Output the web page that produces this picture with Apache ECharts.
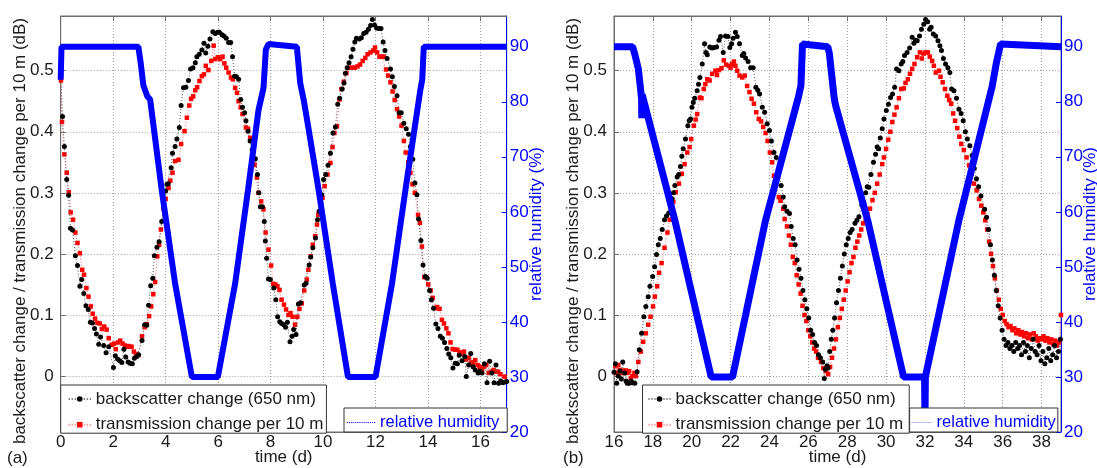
<!DOCTYPE html>
<html>
<head>
<meta charset="utf-8">
<script src="https://cdn.jsdelivr.net/npm/echarts@6/dist/echarts.min.js"></script>
<style>html,body{margin:0;padding:0;background:#fff;}#c{width:1097px;height:468px;}</style>
</head>
<body>
<div id="c"></div>
<script>
// ---------- DATA ----------
const xTicksA = [0, 2, 4, 6, 8, 10, 12, 14, 16];
const xTicksB = [16, 18, 20, 22, 24, 26, 28, 30, 32, 34, 36, 38];
const yTicksLeft = [0, 0.1, 0.2, 0.3, 0.4, 0.5];
const yTicksRight = [20, 30, 40, 50, 60, 70, 80, 90];

// panel (a) backscatter change (dB) : [time (d), value]
const backscatterA = [
[0.00,0.494],[0.07,0.425],[0.14,0.376],[0.23,0.322],[0.30,0.296],[0.37,0.242],[0.45,0.239],[0.56,0.197],[0.64,0.181],[0.73,0.147],
[0.80,0.158],[0.88,0.135],[0.96,0.115],[1.05,0.109],[1.13,0.088],[1.21,0.087],[1.29,0.078],[1.36,0.069],[1.45,0.052],[1.52,0.064],
[1.64,0.050],[1.73,0.038],[1.83,0.048],[2.01,0.014],[2.08,0.033],[2.17,0.028],[2.25,0.025],[2.33,0.022],[2.41,0.044],[2.48,0.031],
[2.57,0.023],[2.64,0.021],[2.73,0.020],[2.81,0.029],[2.90,0.032],[2.97,0.035],[3.10,0.058],[3.20,0.084],[3.28,0.083],[3.35,0.116],
[3.43,0.148],[3.51,0.160],[3.57,0.197],[3.67,0.211],[3.75,0.220],[3.85,0.253],[3.92,0.278],[4.00,0.303],[4.05,0.314],[4.10,0.315],
[4.21,0.341],[4.26,0.365],[4.36,0.376],[4.43,0.388],[4.52,0.407],[4.59,0.443],[4.68,0.472],[4.77,0.473],[4.87,0.484],[4.95,0.503],
[5.04,0.505],[5.13,0.513],[5.19,0.523],[5.28,0.527],[5.38,0.534],[5.46,0.545],[5.53,0.529],[5.61,0.540],[5.69,0.552],[5.80,0.564],
[5.89,0.561],[5.98,0.563],[6.05,0.563],[6.15,0.559],[6.22,0.557],[6.31,0.553],[6.40,0.546],[6.48,0.546],[6.55,0.523],[6.63,0.491],
[6.70,0.490],[6.78,0.486],[6.86,0.453],[6.93,0.440],[7.01,0.431],[7.06,0.418],[7.14,0.401],[7.22,0.385],[7.30,0.370],[7.42,0.356],
[7.50,0.330],[7.55,0.300],[7.61,0.277],[7.69,0.277],[7.76,0.253],[7.80,0.221],[7.85,0.193],[7.92,0.159],[7.99,0.158],[8.12,0.144],
[8.20,0.125],[8.27,0.097],[8.35,0.089],[8.42,0.086],[8.50,0.084],[8.57,0.080],[8.64,0.088],[8.74,0.056],[8.82,0.065],[8.88,0.076],
[8.97,0.068],[9.06,0.118],[9.14,0.120],[9.28,0.149],[9.35,0.152],[9.47,0.182],[9.53,0.195],[9.61,0.210],[9.71,0.226],[9.79,0.256],
[9.85,0.270],[9.91,0.283],[9.95,0.297],[10.02,0.322],[10.10,0.330],[10.19,0.345],[10.28,0.365],[10.38,0.398],[10.47,0.408],[10.56,0.445],
[10.63,0.455],[10.73,0.470],[10.80,0.480],[10.85,0.496],[10.92,0.505],[10.99,0.513],[11.07,0.523],[11.14,0.535],[11.21,0.547],[11.27,0.553],
[11.38,0.552],[11.46,0.554],[11.55,0.561],[11.64,0.563],[11.73,0.568],[11.81,0.574],[11.88,0.584],[11.96,0.575],[12.04,0.570],[12.12,0.569],
[12.21,0.569],[12.29,0.547],[12.36,0.533],[12.44,0.520],[12.57,0.503],[12.64,0.490],[12.72,0.474],[12.82,0.459],[12.90,0.431],[12.98,0.431],
[13.08,0.414],[13.17,0.405],[13.26,0.396],[13.33,0.376],[13.42,0.355],[13.50,0.316],[13.58,0.297],[13.64,0.257],[13.73,0.222],[13.81,0.182],
[13.90,0.163],[13.97,0.160],[14.06,0.140],[14.13,0.125],[14.21,0.111],[14.30,0.085],[14.38,0.078],[14.47,0.065],[14.55,0.062],[14.63,0.055],
[14.72,0.045],[14.79,0.036],[14.87,0.030],[14.95,0.013],[15.04,0.021],[15.12,0.020],[15.19,0.034],[15.30,0.025],[15.40,0.032],[15.46,-0.001],
[15.55,0.018],[15.63,0.037],[15.72,0.015],[15.80,0.010],[15.91,0.005],[15.98,0.008],[16.06,0.005],[16.15,0.020],[16.25,-0.011],[16.35,0.024],
[16.43,0.005],[16.52,-0.011],[16.59,0.018],[16.69,-0.012],[16.77,-0.008],[16.85,-0.011],[16.94,-0.010],[17.00,-0.009]
];

// panel (a) transmission change per 10 m (dB)
const transmissionA = [
[0.01,0.484],[0.05,0.416],[0.14,0.363],[0.23,0.333],[0.31,0.301],[0.38,0.268],[0.47,0.256],[0.56,0.235],[0.64,0.218],[0.73,0.201],
[0.82,0.174],[0.89,0.166],[0.98,0.144],[1.06,0.130],[1.15,0.114],[1.22,0.102],[1.31,0.094],[1.40,0.087],[1.49,0.086],[1.57,0.077],
[1.66,0.081],[1.75,0.076],[1.83,0.062],[1.94,0.051],[2.03,0.053],[2.10,0.044],[2.19,0.055],[2.27,0.058],[2.36,0.053],[2.45,0.050],
[2.52,0.048],[2.60,0.049],[2.70,0.048],[2.79,0.040],[2.87,0.036],[2.95,0.034],[3.10,0.065],[3.20,0.080],[3.28,0.085],[3.37,0.098],
[3.45,0.114],[3.53,0.134],[3.60,0.154],[3.68,0.196],[3.75,0.215],[3.82,0.240],[3.91,0.274],[4.00,0.290],[4.11,0.308],[4.18,0.320],
[4.26,0.333],[4.36,0.352],[4.49,0.354],[4.59,0.380],[4.72,0.401],[4.81,0.423],[4.90,0.443],[4.97,0.454],[5.05,0.458],[5.13,0.468],
[5.20,0.473],[5.29,0.483],[5.38,0.491],[5.46,0.494],[5.53,0.508],[5.63,0.501],[5.74,0.516],[5.83,0.541],[5.89,0.519],[5.99,0.522],
[6.08,0.519],[6.17,0.523],[6.24,0.512],[6.31,0.505],[6.40,0.497],[6.49,0.489],[6.56,0.486],[6.65,0.472],[6.72,0.464],[6.78,0.450],
[6.86,0.440],[6.93,0.429],[7.06,0.407],[7.14,0.405],[7.22,0.390],[7.30,0.370],[7.39,0.346],[7.48,0.325],[7.54,0.300],[7.64,0.286],
[7.73,0.273],[7.81,0.235],[7.92,0.207],[8.02,0.181],[8.10,0.151],[8.18,0.150],[8.26,0.147],[8.34,0.141],[8.42,0.125],[8.51,0.117],
[8.59,0.109],[8.68,0.100],[8.76,0.103],[8.84,0.097],[8.93,0.084],[9.02,0.097],[9.10,0.110],[9.19,0.119],[9.28,0.140],[9.38,0.158],
[9.44,0.174],[9.53,0.196],[9.61,0.215],[9.70,0.229],[9.77,0.248],[9.82,0.264],[9.91,0.281],[9.98,0.292],[10.06,0.311],[10.17,0.330],
[10.28,0.349],[10.36,0.375],[10.43,0.398],[10.53,0.409],[10.63,0.453],[10.70,0.470],[10.79,0.482],[10.89,0.496],[10.99,0.505],[11.11,0.505],
[11.21,0.505],[11.31,0.507],[11.41,0.510],[11.51,0.516],[11.61,0.521],[11.70,0.527],[11.81,0.530],[11.91,0.533],[11.98,0.538],[12.06,0.530],
[12.15,0.523],[12.25,0.523],[12.31,0.523],[12.40,0.502],[12.48,0.492],[12.57,0.481],[12.65,0.466],[12.73,0.452],[12.82,0.437],[12.90,0.425],
[12.99,0.410],[13.08,0.385],[13.15,0.366],[13.25,0.350],[13.33,0.333],[13.41,0.314],[13.50,0.300],[13.62,0.264],[13.69,0.251],[13.77,0.212],
[13.86,0.162],[13.93,0.162],[14.01,0.150],[14.10,0.140],[14.18,0.128],[14.28,0.111],[14.35,0.113],[14.44,0.110],[14.53,0.092],[14.61,0.086],
[14.70,0.078],[14.78,0.070],[14.86,0.055],[14.94,0.044],[15.04,0.043],[15.12,0.043],[15.20,0.039],[15.30,0.037],[15.37,0.040],[15.45,0.027],
[15.55,0.030],[15.64,0.022],[15.72,0.022],[15.80,0.026],[15.89,0.018],[15.97,0.015],[16.06,0.011],[16.14,0.015],[16.22,0.018],[16.31,0.005],
[16.40,0.007],[16.50,0.010],[16.59,0.007],[16.67,0.007],[16.76,0.003],[16.92,-0.001],[17.01,-0.005]
];

// panel (a) relative humidity (%)
const humidityA = [
[0.00,84],[0.03,90],[2.96,90],[3.05,87],[3.15,83],[3.22,82.8],[3.30,81],[3.41,80.4],[3.85,64],[4.36,47],[5.00,30],[5.99,30],
[6.65,47],[7.14,64],[7.54,78.5],[7.73,82.5],[7.82,89.5],[7.92,90.5],[9.00,90],[9.13,83.4],[9.26,80.4],[9.45,75],[9.83,64],
[10.37,47],[10.95,30],[12.00,30],[12.63,47],[13.14,64],[13.71,82.2],[13.78,84],[13.84,90],[17.00,90]
];

// panel (b) backscatter change (dB)
const backscatterB = [
[16.00,0.006],[16.07,0.020],[16.14,-0.012],[16.22,0.000],[16.31,0.008],[16.38,-0.005],[16.45,0.023],[16.55,0.005],[16.62,-0.008],[16.68,-0.012],
[16.78,-0.012],[16.88,-0.008],[16.96,-0.011],[17.07,-0.012],[17.19,0.007],[17.30,0.043],[17.42,0.070],[17.54,0.097],[17.64,0.114],[17.76,0.130],
[17.85,0.147],[17.99,0.163],[18.09,0.179],[18.19,0.199],[18.28,0.215],[18.38,0.225],[18.48,0.240],[18.60,0.256],[18.70,0.262],[18.82,0.267],
[18.90,0.280],[18.99,0.290],[19.06,0.300],[19.13,0.312],[19.25,0.326],[19.33,0.330],[19.42,0.343],[19.49,0.360],[19.56,0.372],[19.68,0.388],
[19.80,0.410],[19.87,0.418],[19.94,0.421],[20.01,0.440],[20.08,0.448],[20.15,0.455],[20.28,0.467],[20.35,0.478],[20.42,0.489],[20.54,0.511],
[20.66,0.544],[20.73,0.530],[20.80,0.526],[20.93,0.539],[21.05,0.537],[21.14,0.538],[21.28,0.539],[21.40,0.550],[21.48,0.556],[21.62,0.530],
[21.74,0.557],[21.86,0.556],[21.96,0.538],[22.05,0.544],[22.13,0.553],[22.25,0.563],[22.34,0.556],[22.46,0.544],[22.60,0.525],[22.68,0.528],
[22.77,0.521],[22.90,0.515],[23.03,0.505],[23.16,0.505],[23.30,0.473],[23.40,0.468],[23.49,0.462],[23.63,0.440],[23.75,0.432],[23.88,0.413],
[24.00,0.402],[24.10,0.385],[24.23,0.366],[24.35,0.358],[24.48,0.335],[24.60,0.312],[24.71,0.293],[24.78,0.277],[24.90,0.270],[25.03,0.266],
[25.12,0.245],[25.22,0.225],[25.32,0.215],[25.42,0.190],[25.52,0.175],[25.62,0.160],[25.72,0.140],[25.82,0.125],[25.92,0.110],[26.02,0.095],
[26.12,0.075],[26.22,0.068],[26.32,0.055],[26.42,0.050],[26.52,0.035],[26.62,0.030],[26.74,0.023],[26.82,-0.004],[26.87,0.011],[26.96,0.017],
[27.02,0.013],[27.10,0.040],[27.18,0.060],[27.26,0.075],[27.35,0.095],[27.45,0.120],[27.55,0.140],[27.65,0.160],[27.75,0.180],[27.85,0.200],
[27.95,0.215],[28.05,0.225],[28.15,0.235],[28.25,0.240],[28.40,0.250],[28.50,0.255],[28.60,0.261],[28.75,0.280],[28.85,0.285],[28.95,0.300],
[29.03,0.310],[29.11,0.309],[29.22,0.330],[29.35,0.350],[29.46,0.363],[29.54,0.375],[29.62,0.372],[29.70,0.390],[29.80,0.405],[29.89,0.421],
[30.01,0.435],[30.12,0.445],[30.23,0.456],[30.33,0.462],[30.44,0.473],[30.54,0.503],[30.66,0.500],[30.78,0.511],[30.86,0.515],[30.95,0.525],
[31.08,0.530],[31.21,0.537],[31.34,0.555],[31.43,0.545],[31.52,0.550],[31.60,0.549],[31.72,0.557],[31.82,0.568],[31.94,0.576],[32.03,0.584],
[32.14,0.580],[32.24,0.568],[32.32,0.571],[32.43,0.560],[32.55,0.557],[32.67,0.549],[32.77,0.541],[32.85,0.533],[32.95,0.520],[33.06,0.511],
[33.18,0.505],[33.28,0.497],[33.37,0.470],[33.49,0.467],[33.62,0.455],[33.75,0.437],[33.86,0.430],[33.97,0.418],[34.08,0.400],[34.18,0.388],
[34.31,0.377],[34.43,0.361],[34.54,0.340],[34.65,0.323],[34.76,0.310],[34.88,0.295],[35.07,0.273],[35.17,0.260],[35.27,0.240],[35.37,0.215],
[35.47,0.190],[35.57,0.165],[35.67,0.140],[35.77,0.115],[35.87,0.095],[35.97,0.075],[36.07,0.060],[36.17,0.050],[36.27,0.055],[36.37,0.045],
[36.47,0.050],[36.57,0.040],[36.67,0.055],[36.77,0.045],[36.87,0.050],[36.97,0.035],[37.07,0.055],[37.17,0.040],[37.27,0.050],[37.37,0.030],
[37.47,0.045],[37.57,0.060],[37.67,0.040],[37.77,0.035],[37.87,0.050],[37.97,0.025],[38.07,0.040],[38.17,0.020],[38.27,0.030],[38.37,0.045],
[38.47,0.025],[38.57,0.035],[38.67,0.050],[38.77,0.030],[38.87,0.040],[38.97,0.060]
];

// panel (b) transmission change per 10 m (dB)
const transmissionB = [
[16.07,0.016],[16.14,0.005],[16.22,0.018],[16.30,0.010],[16.40,0.005],[16.48,0.009],[16.55,0.005],[16.62,0.009],[16.70,0.005],[16.78,0.008],
[16.86,-0.004],[16.95,0.000],[17.05,0.005],[17.13,0.000],[17.25,0.023],[17.38,0.040],[17.50,0.056],[17.64,0.070],[17.76,0.084],[17.88,0.097],
[18.01,0.114],[18.10,0.130],[18.22,0.147],[18.32,0.169],[18.45,0.185],[18.60,0.210],[18.75,0.235],[18.87,0.256],[18.96,0.270],[19.05,0.285],
[19.18,0.301],[19.34,0.315],[19.49,0.331],[19.63,0.347],[19.77,0.366],[19.89,0.375],[19.97,0.388],[20.11,0.410],[20.20,0.420],[20.28,0.429],
[20.42,0.456],[20.50,0.455],[20.62,0.470],[20.70,0.478],[20.80,0.486],[20.92,0.484],[21.05,0.495],[21.22,0.500],[21.30,0.493],[21.40,0.501],
[21.53,0.504],[21.65,0.517],[21.77,0.510],[21.91,0.508],[22.00,0.505],[22.08,0.511],[22.17,0.515],[22.25,0.508],[22.34,0.500],[22.46,0.492],
[22.60,0.489],[22.73,0.492],[22.85,0.475],[22.97,0.465],[23.08,0.454],[23.20,0.446],[23.32,0.432],[23.45,0.421],[23.57,0.417],[23.68,0.408],
[23.80,0.398],[23.90,0.385],[24.02,0.366],[24.14,0.350],[24.23,0.328],[24.35,0.315],[24.48,0.293],[24.57,0.287],[24.71,0.274],[24.78,0.257],
[24.90,0.245],[25.00,0.230],[25.10,0.215],[25.20,0.195],[25.30,0.185],[25.40,0.165],[25.50,0.150],[25.60,0.135],[25.70,0.115],[25.80,0.100],
[25.90,0.090],[26.00,0.075],[26.10,0.065],[26.20,0.055],[26.30,0.045],[26.40,0.040],[26.50,0.030],[26.65,0.023],[26.77,0.013],[26.90,0.008],
[27.02,0.003],[27.12,0.015],[27.22,0.030],[27.32,0.045],[27.42,0.060],[27.52,0.080],[27.62,0.095],[27.72,0.110],[27.82,0.125],[27.92,0.140],
[28.02,0.155],[28.12,0.170],[28.22,0.185],[28.32,0.195],[28.42,0.210],[28.52,0.220],[28.62,0.230],[28.72,0.240],[28.82,0.250],[28.95,0.255],
[29.05,0.265],[29.17,0.274],[29.30,0.288],[29.42,0.300],[29.54,0.315],[29.67,0.330],[29.80,0.347],[29.89,0.358],[30.00,0.372],[30.11,0.387],
[30.22,0.400],[30.32,0.416],[30.43,0.428],[30.54,0.440],[30.66,0.455],[30.78,0.470],[30.91,0.471],[31.00,0.480],[31.12,0.486],[31.23,0.495],
[31.34,0.503],[31.46,0.511],[31.60,0.522],[31.74,0.530],[31.84,0.520],[31.93,0.528],[32.03,0.530],[32.15,0.530],[32.25,0.523],[32.37,0.516],
[32.46,0.508],[32.56,0.497],[32.72,0.500],[32.80,0.490],[32.91,0.481],[33.03,0.470],[33.15,0.459],[33.25,0.452],[33.35,0.446],[33.45,0.430],
[33.55,0.418],[33.66,0.406],[33.77,0.392],[33.87,0.380],[34.00,0.370],[34.14,0.358],[34.27,0.345],[34.40,0.331],[34.52,0.315],[34.66,0.304],
[34.78,0.290],[34.90,0.279],[35.00,0.268],[35.10,0.255],[35.20,0.240],[35.30,0.220],[35.40,0.200],[35.50,0.180],[35.60,0.160],[35.70,0.140],
[35.80,0.125],[35.90,0.110],[36.00,0.100],[36.10,0.090],[36.20,0.085],[36.30,0.080],[36.40,0.082],[36.50,0.075],[36.60,0.078],[36.70,0.070],
[36.80,0.075],[36.90,0.068],[37.00,0.072],[37.10,0.065],[37.20,0.070],[37.30,0.062],[37.40,0.068],[37.50,0.060],[37.60,0.070],[37.70,0.065],
[37.80,0.058],[37.90,0.062],[38.00,0.060],[38.10,0.065],[38.20,0.058],[38.30,0.062],[38.40,0.055],[38.50,0.060],[38.60,0.052],[38.70,0.058],
[38.80,0.050],[38.90,0.055],[39.00,0.100]
];

// panel (b) relative humidity (%)
const humidityB = [
[16.00,90],[16.96,90],[17.08,88.5],[17.25,86],[17.37,82.2],[17.42,80.5],[17.43,77],[17.45,81.3],[19.13,58.5],[21.00,30],[22.10,30],
[23.80,58.5],[25.50,81],[25.62,83],[25.70,90.5],[27.00,90],[27.08,88.8],[27.34,80.4],[27.42,79.1],[29.05,58.5],[30.90,30],[31.98,30],
[32.00,22],[32.02,30],[33.75,58.5],[35.29,80.4],[35.46,82.8],[35.67,87],[35.89,90.5],[39.00,90]
];

// ---------- CHART ----------
const FONT = 'Liberation Sans, Arial, Helvetica, sans-serif';
const TXT = '#1a1a1a';
const FRAME = '#6e6e6e';
const BLUE = '#0000ff';
const GRIDLINE = { show: true, lineStyle: { color: '#a0a0a0', width: 1, type: [1, 2] } };
const NAME_BS = 'backscatter change (650 nm)';
const NAME_TR = 'transmission change per 10 m';
const NAME_RH = 'relative humidity';
const DOTS = 'path://' + Array.from({length: 14}, (_, i) => 'M' + (i * 2) + ',0h1v1h-1z').join(' ');

function xAxisCfg(grid, min, max, ticks) {
  return {
    gridIndex: grid, type: 'value', min: min, max: max, position: 'bottom',
    axisLine: { show: true, onZero: false, lineStyle: { color: FRAME } },
    axisTick: { show: true, inside: true, length: 5, customValues: ticks, lineStyle: { color: FRAME } },
    axisLabel: { customValues: ticks, fontSize: 17, fontFamily: FONT, color: TXT, margin: 2 },
    splitLine: GRIDLINE,
    name: 'time (d)', nameLocation: 'middle', nameGap: 17, nameMoveOverlap: false,
    nameTextStyle: { fontSize: 17, fontFamily: FONT, color: TXT }
  };
}
function xTopCfg(grid, min, max, ticks) {
  return {
    gridIndex: grid, type: 'value', min: min, max: max, position: 'top',
    axisLine: { show: true, onZero: false, lineStyle: { color: FRAME } },
    axisTick: { show: true, inside: true, length: 5, customValues: ticks, lineStyle: { color: FRAME } },
    axisLabel: { show: false }, splitLine: { show: false }
  };
}
function yLeftCfg(grid) {
  return {
    gridIndex: grid, type: 'value', min: -0.0917, max: 0.5896, position: 'left',
    axisLine: { show: true, onZero: false, lineStyle: { color: FRAME } },
    axisTick: { show: true, inside: true, length: 5, customValues: yTicksLeft, lineStyle: { color: FRAME } },
    axisLabel: { customValues: yTicksLeft, fontSize: 17, fontFamily: FONT, color: TXT, margin: 7 },
    splitLine: GRIDLINE,
    name: 'backscatter change / transmission change per 10 m (dB)', nameLocation: 'middle', nameGap: 32, nameMoveOverlap: false,
    nameTextStyle: { fontSize: 17, fontFamily: FONT, color: TXT, padding: [0, 14, 0, 0] }
  };
}
function yRightCfg(grid) {
  return {
    gridIndex: grid, type: 'value', min: 20, max: 95.58, position: 'right',
    axisLine: { show: true, onZero: false, lineStyle: { color: BLUE } },
    axisTick: { show: true, inside: true, length: 5, customValues: yTicksRight, lineStyle: { color: BLUE } },
    axisLabel: { customValues: yTicksRight, fontSize: 17, fontFamily: FONT, color: BLUE, margin: 3 },
    splitLine: { show: false },
    name: 'relative humidity (%)', nameLocation: 'middle', nameGap: 21, nameMoveOverlap: false,
    nameTextStyle: { fontSize: 17, fontFamily: FONT, color: BLUE }
  };
}
function bsSeries(data, xi, yi) {
  return { name: NAME_BS, type: 'line', data: data, xAxisIndex: xi, yAxisIndex: yi,
    symbol: 'circle', symbolSize: 5, showSymbol: true, showAllSymbol: true, z: 3,
    itemStyle: { color: '#000' }, lineStyle: { color: '#555', width: 1, type: [1, 2] } };
}
function trSeries(data, xi, yi) {
  return { name: NAME_TR, type: 'line', data: data, xAxisIndex: xi, yAxisIndex: yi,
    symbol: 'rect', symbolSize: 4.5, showSymbol: true, showAllSymbol: true, z: 2,
    itemStyle: { color: '#ff0000' }, lineStyle: { color: '#ff7070', width: 1, type: [1, 2] } };
}
function rhSeries(data, xi, yi, w) {
  return { name: NAME_RH, type: 'line', data: data, xAxisIndex: xi, yAxisIndex: yi,
    symbol: 'none', z: 4, color: BLUE,
    lineStyle: { color: BLUE, width: w } };
}
function legendMain(left, pad) {
  return {
    left: left, top: 385, orient: 'vertical', selectedMode: false, z: 10,
    backgroundColor: '#fff', borderColor: '#333', borderWidth: 1, borderRadius: 0,
    padding: pad, itemGap: 8.7, itemWidth: 22, itemHeight: 7,
    textStyle: { fontSize: 17, fontFamily: FONT, color: TXT },
    data: [NAME_BS, NAME_TR]
  };
}
function legendRH(left, pad, w) {
  return {
    left: left, top: 408, orient: 'vertical', selectedMode: false, z: 10,
    backgroundColor: '#fff', borderColor: '#333', borderWidth: 1, borderRadius: 0,
    padding: pad, itemWidth: w, itemHeight: 1.5,
    textStyle: { fontSize: 16.5, fontFamily: FONT, color: BLUE },
    data: [{ name: NAME_RH, icon: DOTS, itemStyle: { color: BLUE } }]
  };
}

const chart = echarts.init(document.getElementById('c'), null, { renderer: 'canvas' });
chart.setOption({
  animation: false,
  backgroundColor: '#fff',
  textStyle: { fontFamily: FONT },
  grid: [
    { left: 60.7, top: 16, width: 446, height: 416, show: true, borderColor: FRAME, borderWidth: 1, backgroundColor: 'transparent', containLabel: false, outerBoundsMode: 'none' },
    { left: 614, top: 16, width: 447, height: 416, show: true, borderColor: FRAME, borderWidth: 1, backgroundColor: 'transparent', containLabel: false, outerBoundsMode: 'none' }
  ],
  xAxis: [ xAxisCfg(0, 0, 17, xTicksA), xAxisCfg(1, 16, 39, xTicksB), xTopCfg(0, 0, 17, xTicksA), xTopCfg(1, 16, 39, xTicksB) ],
  yAxis: [ yLeftCfg(0), yRightCfg(0), yLeftCfg(1), yRightCfg(1) ],
  legend: [
    legendMain(60.7, [5.5, 3, 0, 7]),
    legendRH(344, [6, 8, 1, 3], 28),
    legendMain(642.5, [5.5, 6, 0, 5]),
    legendRH(909.6, [6, 2, 1, 2], 20)
  ],
  graphic: [
    { type: 'text', left: 7, top: 450, style: { text: '(a)', fontSize: 17, fontFamily: FONT, fill: TXT } },
    { type: 'text', left: 563, top: 450, style: { text: '(b)', fontSize: 17, fontFamily: FONT, fill: TXT } }
  ],
  series: [
    trSeries(transmissionA, 0, 0), bsSeries(backscatterA, 0, 0), rhSeries(humidityA, 0, 1, 6),
    trSeries(transmissionB, 1, 2), bsSeries(backscatterB, 1, 2), rhSeries(humidityB, 1, 3, 7)
  ]
});
</script>
</body>
</html>
